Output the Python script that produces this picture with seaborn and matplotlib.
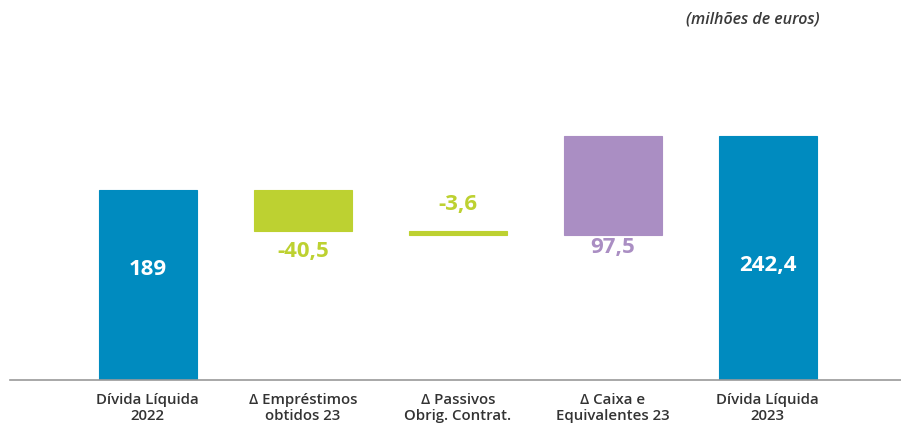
import pandas as pd
import matplotlib.pyplot as plt
import seaborn as sns

# Dados (milhões de euros)
categorias = ["Dívida Líquida\n2022", "\u0394 Empréstimos\nobtidos 23",
              "\u0394 Passivos\nObrig. Contrat.", "\u0394 Caixa e\nEquivalentes 23",
              "Dívida Líquida\n2023"]
variacoes = [189.0, -40.5, -3.6, 97.5, 242.4]
rotulos = ["189", "-40,5", "-3,6", "97,5", "242,4"]
tipos = ["total", "delta", "delta", "delta", "total"]

cores = {"blue": "#008BBF", "green": "#BDD131", "purple": "#AA8EC3"}

# Calcular base e altura de cada barra (cascata)
bases, alturas, nivel = [], [], 0.0
for v, t in zip(variacoes, tipos):
    if t == "total":
        bases.append(0.0)
        alturas.append(v)
        nivel = v
    else:
        novo = nivel + v
        bases.append(min(nivel, novo))
        alturas.append(abs(v))
        nivel = novo
df = pd.DataFrame({"cat": categorias, "base": bases, "altura": alturas,
                   "var": variacoes, "tipo": tipos})

def cor_de(row):
    if row["tipo"] == "total":
        return cores["blue"]
    return cores["green"] if row["var"] < 0 else cores["purple"]

sns.set_style("white")
plt.rcParams["font.family"] = ["Open Sans", "DejaVu Sans"]

fig = plt.figure(figsize=(9.01, 4.25), dpi=100)
ax = fig.add_axes([0.011, 0.105, 0.989, 0.895])

for i, row in df.iterrows():
    sns.barplot(x=[row["cat"]], y=[row["altura"]], bottom=row["base"],
                order=categorias, color=cor_de(row), saturation=1,
                width=0.632, errorbar=None, ax=ax,
                edgecolor=cor_de(row), linewidth=0.8)

# Rótulos de valores
for i, row in df.iterrows():
    c = cor_de(row)
    if row["tipo"] == "total":
        y = 110 if i == 0 else 114
        ax.text(i, y, rotulos[i], ha="center", va="center", color="white",
                fontsize=16, fontweight="bold")
    elif row["var"] < -10:
        ax.text(i, row["base"] - 20, rotulos[i], ha="center", va="center",
                color=c, fontsize=16, fontweight="bold")
    elif row["var"] < 0:
        ax.text(i, row["base"] + row["altura"] + 26, rotulos[i], ha="center",
                va="center", color=c, fontsize=16, fontweight="bold")
    else:
        ax.text(i, row["base"] - 13, rotulos[i], ha="center", va="center",
                color=c, fontsize=16, fontweight="bold")

ax.set_xlim(-0.89, 4.86)
ax.set_ylim(0, 378)
ax.set_yticks([])
ax.set_xlabel("")
ax.set_ylabel("")
ax.set_xticks(range(len(categorias)))
ax.set_xticklabels(categorias, fontsize=10.8, fontweight="semibold",
                   color="#333333", linespacing=1.15)
ax.tick_params(axis="x", length=0, pad=9)
for s in ["top", "right", "left"]:
    ax.spines[s].set_visible(False)
ax.spines["bottom"].set_color("#9a9a9a")
ax.spines["bottom"].set_linewidth(1.2)

fig.text(0.91, 0.955, "(milhões de euros)", ha="right", va="center",
         fontsize=11.5, fontstyle="italic", fontweight="semibold", color="#3a3a3a")

plt.savefig("out.png", dpi=100)
plt.close()
